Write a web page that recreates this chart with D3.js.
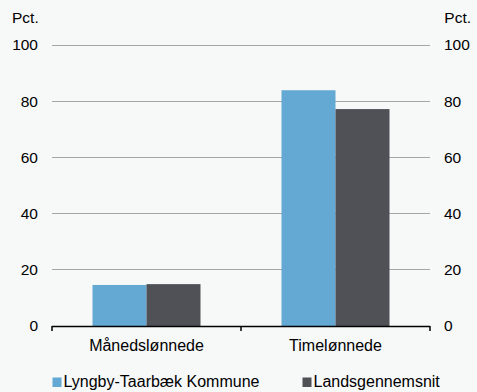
<!DOCTYPE html>
<html><head><meta charset="utf-8">
<script src="https://cdn.jsdelivr.net/npm/d3@7"></script>
<style>
html,body{margin:0;padding:0;background:#f7f8f8;}
svg{display:block;font-family:"Liberation Sans",Arial,sans-serif;}
</style></head>
<body><svg id="c" width="477" height="392"></svg>
<script>
const categories = ["Månedslønnede", "Timelønnede"];
const seriesNames = ["Lyngby-Taarbæk Kommune", "Landsgennemsnit"];
const lyngby = [14.6, 83.9];
const lands = [14.9, 77.2];
const yTicks = [0, 20, 40, 60, 80, 100];
const unitLabel = "Pct.";
const colors = ["#63a9d4", "#505157"];

const svg = d3.select("#c");
const x0 = 52, x1 = 430, yBase = 326, yTop = 45;
const x = d3.scaleBand().domain(categories).range([x0, x1]).paddingInner(0).paddingOuter(0);
const xs = d3.scaleBand().domain(seriesNames).range([0, x.bandwidth()]).paddingInner(0).paddingOuter(0.75);
const y = d3.scaleLinear().domain([0, 100]).range([yBase, yTop]);

// gridlines
svg.append("g").selectAll("line").data(yTicks.filter(d => d > 0)).join("line")
  .attr("x1", x0).attr("x2", x1).attr("y1", d => y(d)).attr("y2", d => y(d))
  .attr("stroke", "#a6a6a6").attr("stroke-width", 1).attr("shape-rendering", "crispEdges");

// bars
const data = [lyngby, lands];
svg.append("g").selectAll("g").data(seriesNames).join("g")
  .attr("fill", (d, i) => colors[i])
  .selectAll("rect").data((s, si) => categories.map((c, ci) => ({c, s, v: data[si][ci]}))).join("rect")
  .attr("x", d => x(d.c) + xs(d.s)).attr("width", xs.bandwidth())
  .attr("y", d => y(d.v)).attr("height", d => yBase - y(d.v));

// left axis labels
const yl = d3.axisLeft(y).tickValues(yTicks).tickSize(0).tickPadding(0);
const gl = svg.append("g").attr("transform", "translate(38,0)").call(yl);
gl.select(".domain").remove();
gl.selectAll("text").attr("font-size", 15.5).attr("fill", "#000").attr("font-family", "Liberation Sans, Arial, sans-serif");

const yr = d3.axisRight(y).tickValues(yTicks).tickSize(0).tickPadding(0);
const gr = svg.append("g").attr("transform", "translate(444,0)").call(yr);
gr.select(".domain").remove();
gr.selectAll("text").attr("font-size", 15.5).attr("fill", "#000").attr("font-family", "Liberation Sans, Arial, sans-serif");

// unit labels
svg.append("text").attr("x", 12).attr("y", 23).attr("font-size", 15.5).text(unitLabel);
svg.append("text").attr("x", 471).attr("y", 23).attr("text-anchor", "end").attr("font-size", 15.5).text(unitLabel);

// x axis
svg.append("line").attr("x1", x0).attr("x2", x1).attr("y1", yBase + 0.5).attr("y2", yBase + 0.5)
  .attr("stroke", "#000").attr("stroke-width", 1.5);
const tickXs = [x0, x(categories[1]), x1];
svg.append("g").selectAll("line").data(tickXs).join("line")
  .attr("x1", d => d).attr("x2", d => d).attr("y1", yBase).attr("y2", yBase + 5)
  .attr("stroke", "#000").attr("stroke-width", 1.5);
svg.append("g").selectAll("text").data(categories).join("text")
  .attr("x", d => x(d) + x.bandwidth() / 2).attr("y", 351).attr("text-anchor", "middle")
  .attr("font-size", 16).text(d => d);

// legend
const legX = [52.5, 302.5];
const lg = svg.append("g").selectAll("g").data(seriesNames).join("g")
  .attr("transform", (d, i) => `translate(${legX[i]},0)`);
lg.append("rect").attr("x", 0).attr("y", 377.5).attr("width", 9).attr("height", 9.5).attr("fill", (d, i) => colors[i]);
lg.append("text").attr("x", 11).attr("y", 387).attr("font-size", 16).text(d => d);
</script></body></html>
